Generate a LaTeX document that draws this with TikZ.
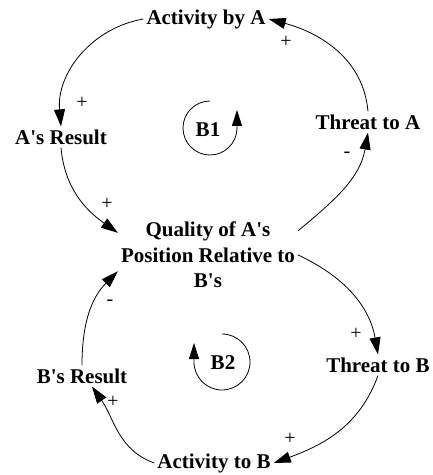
\documentclass[tikz,border=0pt]{standalone}
\usepackage{fontspec}
\setmainfont{Liberation Serif}
\usetikzlibrary{arrows.meta}
\newcommand\ap{\textquotesingle}
\begin{document}
\begin{tikzpicture}[x=1pt,y=1pt,
  var/.style={font=\fontsize{21}{25.5}\selectfont\bfseries, inner sep=3pt, align=center},
  pol/.style={font=\fontsize{20}{22}\selectfont, inner sep=0pt},
  link/.style={draw, line width=0.8pt, -{Triangle[length=17pt,width=11pt]}},
  loopar/.style={draw, line width=0.8pt, -{Triangle[length=16pt,width=10pt]}},
]
\useasboundingbox (0,0) rectangle (433,-475);
\node[var] (actA) at (206,-19) {Activity by A};
\node[var] (resA) at (61,-137) {A\ap s Result};
\node[var] (thrA) at (368,-122) {Threat to A};
\node[var] (qual) at (208,-255) {Quality of A\ap s\\Position Relative to\\B\ap s};
\node[var] (thrB) at (378,-365) {Threat to B};
\node[var] (resB) at (82,-376) {B\ap s Result};
\node[var] (actB) at (214,-463) {Activity to B};
\node[var] (B1) at (208,-130) {B1};
\node[var] (B2) at (223,-363) {B2};

\draw[link] (actA.west) to[out=190,in=95] (resA.north);
\draw[link] (resA.south) to[out=-85,in=145] ([yshift=-14pt]qual.north west);
\draw[link] ([yshift=-12pt]qual.north east) to[out=40,in=-100] (thrA.south);
\draw[link] (thrA.north) to[out=95,in=-15] (actA.east);
\draw[link] (qual.east) to[out=-25,in=100] (thrB.north);
\draw[link] (thrB.south) to[out=-110,in=20] (actB.east);
\draw[link] (actB.west) to[out=160,in=-55] ([xshift=10pt]resB.south);
\draw[link] (resB.north) to[out=90,in=-135] ([yshift=20pt]qual.south west);

\draw[loopar] (B1.center) ++(2,29) arc[start angle=90,end angle=358,radius=27] -- ++(0,19);
\draw[loopar] (B2.center) ++(-1,29) arc[start angle=90,end angle=-180,radius=28] -- ++(0,19);

\node[pol] (p1) at (82,-103) {+};
\node[pol] (p2) at (286,-42) {+};
\node[pol] (p3) at (107,-204) {+};
\node[pol] (m1) at (347,-155) {-};
\node[pol] (m2) at (110,-303) {-};
\node[pol] (p4) at (356,-334) {+};
\node[pol] (p5) at (113,-402) {+};
\node[pol] (p6) at (290,-439) {+};
\end{tikzpicture}
\end{document}
